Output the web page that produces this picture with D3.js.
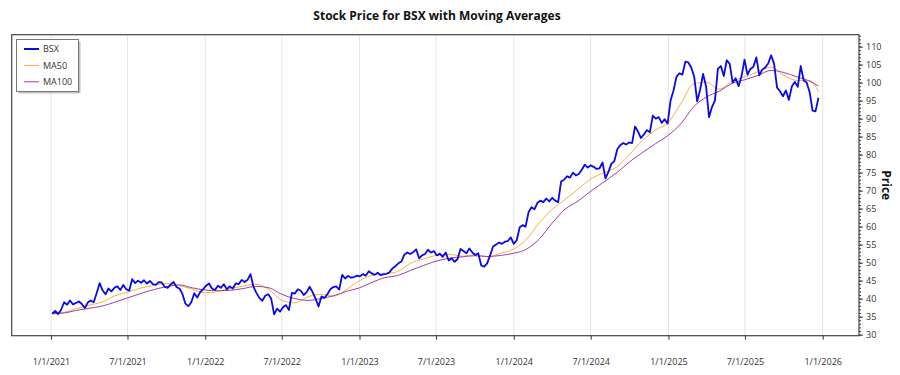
<!doctype html>
<html>
  <head>
    <script src="https://cdn.jsdelivr.net/npm/d3@7"></script>
    <style>
      body { margin: 0; background: #fff; }
      text { font-family: "Open Sans", "Noto Sans", sans-serif; }
    </style>
  </head>
  <body>
    <script>
    // weekly closes, first week starts 2021-01-04
    var firstWeek = "2021-01-04";
    var bsx2021 = [35.8, 36.6, 35.7, 36.9, 39.0, 38.3, 39.5, 38.4, 38.8, 39.2, 38.5, 37.4, 38.9,
      39.5, 39.0, 41.5, 44.3, 42.3, 41.2, 42.8, 42.0, 43.0, 43.4, 42.4, 43.8, 42.6,
      42.2, 45.4, 44.3, 45.0, 44.4, 45.1, 44.2, 44.9, 44.0, 43.8, 44.6, 44.5, 43.3,
      43.0, 43.9, 44.6, 43.2, 42.8, 41.3, 38.6, 37.9, 39.0, 41.5, 40.3, 41.8, 42.6];
    var bsx2022 = [43.6, 44.2, 42.8, 42.4, 43.6, 43.0, 44.0, 42.6, 43.4, 42.8, 44.2, 44.0, 45.2,
      44.6, 45.2, 46.8, 43.3, 41.6, 40.2, 39.4, 40.8, 41.2, 40.0, 35.6, 37.2, 36.4,
      37.6, 38.2, 36.8, 41.6, 41.4, 42.6, 42.2, 41.0, 41.8, 43.3, 41.8, 40.0, 37.8,
      40.6, 40.2, 41.2, 42.6, 43.2, 43.4, 42.5, 46.6, 45.6, 46.3, 45.8, 46.0, 46.4];
    var bsx2023 = [46.2, 46.8, 46.4, 47.6, 47.0, 46.6, 47.2, 46.5, 46.8, 46.9, 47.3, 48.4, 49.0,
      49.8, 50.3, 52.2, 52.8, 52.4, 52.9, 53.7, 51.2, 52.0, 52.4, 53.6, 52.8, 53.2,
      52.0, 52.5, 51.6, 52.8, 50.6, 51.2, 50.2, 51.0, 53.8, 53.2, 52.6, 53.9, 52.8,
      52.1, 52.6, 49.2, 48.9, 49.8, 52.0, 54.5, 55.0, 55.6, 55.2, 55.8, 56.0, 57.0];
    var bsx2024 = [55.2, 56.2, 59.8, 60.4, 60.0, 64.0, 65.4, 64.8, 66.6, 67.2, 66.8, 67.8, 67.0,
      68.0, 67.2, 66.8, 72.5, 73.0, 74.0, 73.6, 75.0, 74.2, 74.6, 75.8, 77.2, 76.4,
      77.0, 76.6, 76.0, 76.2, 77.8, 73.4, 75.2, 77.5, 78.2, 81.5, 82.6, 83.2, 82.8, 83.4,
      83.2, 87.8, 86.4, 84.6, 85.6, 86.8, 86.2, 90.8, 90.0, 90.4, 88.8, 89.8, 88.6];
    var bsx2025 = [95.0, 97.8, 101.6, 102.6, 102.2, 105.8, 105.6, 104.2, 101.6, 94.8, 98.0, 102.4, 99.0,
      90.4, 93.2, 95.0, 103.8, 104.6, 101.8, 106.2, 105.2, 100.0, 101.2, 99.0, 101.8, 106.4,
      102.2, 103.8, 104.4, 107.0, 102.0, 103.6, 104.2, 105.3, 107.6, 105.2, 98.6, 97.6, 96.2,
      97.8, 95.2, 98.9, 100.2, 98.8, 104.6, 100.6, 100.0, 97.4, 92.2, 92.0, 95.8];

    // moving averages read at month starts (first and last point at the series ends)
    var maDates = ["2021-01-04", "2021-02-01", "2021-03-01", "2021-04-01", "2021-05-01", "2021-06-01",
      "2021-07-01", "2021-08-01", "2021-09-01", "2021-10-01", "2021-11-01", "2021-12-01",
      "2022-01-01", "2022-02-01", "2022-03-01", "2022-04-01", "2022-05-01", "2022-06-01",
      "2022-07-01", "2022-08-01", "2022-09-01", "2022-10-01", "2022-11-01", "2022-12-01",
      "2023-01-01", "2023-02-01", "2023-03-01", "2023-04-01", "2023-05-01", "2023-06-01",
      "2023-07-01", "2023-08-01", "2023-09-01", "2023-10-01", "2023-11-01", "2023-12-01",
      "2024-01-01", "2024-02-01", "2024-03-01", "2024-04-01", "2024-05-01", "2024-06-01",
      "2024-07-01", "2024-08-01", "2024-09-01", "2024-10-01", "2024-11-01", "2024-12-01",
      "2025-01-01", "2025-02-01", "2025-03-01", "2025-04-01", "2025-05-01", "2025-06-01",
      "2025-07-01", "2025-08-01", "2025-09-01", "2025-10-01", "2025-11-01", "2025-12-01", "2025-12-22"];
    var ma50 = [35.8, 36.2, 37.2, 38.2, 39.0, 40.8, 41.8, 42.9, 43.7, 44.2, 43.6, 42.6,
      41.6, 42.0, 42.8, 43.5, 44.0, 42.5, 39.5, 38.8, 40.5, 41.2, 40.7, 42.5,
      45.0, 46.5, 46.9, 47.5, 49.8, 51.0, 52.0, 52.3, 51.8, 52.2, 51.6, 52.6,
      53.8, 56.6, 61.0, 64.8, 67.5, 70.4, 73.2, 75.0, 76.6, 80.0, 84.0, 86.8,
      89.0, 94.5, 99.6, 100.1, 98.2, 100.4, 101.6, 103.0, 104.3, 102.0, 100.6, 100.6, 97.5];
    var ma100 = [35.8, 36.0, 36.7, 37.3, 37.9, 39.0, 40.2, 41.4, 42.5, 43.3, 43.8, 43.0,
      42.4, 42.2, 42.3, 42.8, 43.4, 43.0, 41.2, 40.0, 39.5, 40.0, 40.8, 42.0,
      43.0, 44.6, 45.8, 46.4, 47.8, 49.2, 50.4, 51.2, 51.6, 51.9, 51.7, 52.0,
      52.6, 53.8, 56.5, 61.0, 64.8, 67.1, 69.8, 72.4, 75.0, 78.0, 80.6, 83.0,
      85.4, 88.8, 93.2, 96.0, 97.6, 99.8, 100.8, 102.0, 103.4, 102.8, 101.6, 100.4, 99.0];

    var xTicks = ["2021-01-01", "2021-07-01", "2022-01-01", "2022-07-01", "2023-01-01", "2023-07-01",
      "2024-01-01", "2024-07-01", "2025-01-01", "2025-07-01", "2026-01-01"];
    var yTicks = [30, 35, 40, 45, 50, 55, 60, 65, 70, 75, 80, 85, 90, 95, 100, 105, 110];

    var width = 900, height = 375;
    var plot = {left: 11.7, right: 859, top: 34.7, bottom: 335.7};

    var parse = d3.timeParse("%Y-%m-%d");

    var closes = bsx2021.concat(bsx2022, bsx2023, bsx2024, bsx2025);
    var start = parse(firstWeek);
    var priceData = closes.map(function(v, i) { return {date: d3.timeWeek.offset(start, i), value: v}; });
    var ma50Data = maDates.map(function(d, i) { return {date: parse(d), value: ma50[i]}; });
    var ma100Data = maDates.map(function(d, i) { return {date: parse(d), value: ma100[i]}; });

    // x scale anchored on the tick positions seen in the chart
    var tickDates = xTicks.map(parse);
    var x0 = d3.scaleTime().domain([tickDates[0], tickDates[tickDates.length - 1]]).range([51, 822.7]);
    var x = d3.scaleTime()
              .domain([x0.invert(plot.left), x0.invert(plot.right)])
              .range([plot.left, plot.right]);

    var y = d3.scaleLinear().domain([29.7, 113.3]).range([plot.bottom, plot.top]);

    var svg = d3.select("body").append("svg")
                .attr("width", width)
                .attr("height", height);

    // title
    svg.append("text")
      .attr("x", 437)
      .attr("y", 20)
      .attr("text-anchor", "middle")
      .attr("font-weight", "bold")
      .style("font-size", "12px")
      .attr("fill", "#111")
      .text("Stock Price for BSX with Moving Averages");

    // vertical grid
    svg.append("g")
      .selectAll("line")
      .data(tickDates)
      .enter()
        .append("line")
        .attr("x1", function(d) { return x(d); })
        .attr("x2", function(d) { return x(d); })
        .attr("y1", plot.top)
        .attr("y2", plot.bottom)
        .attr("stroke", "#e4e4e4")
        .attr("stroke-width", 1);

    // bottom axis
    var xAxis = d3.axisBottom(x)
                  .tickValues(tickDates)
                  .tickSize(4)
                  .tickPadding(19)
                  .tickFormat(d3.timeFormat("%-m/%-d/%Y"));
    var gx = svg.append("g")
      .attr("transform", "translate(0," + plot.bottom + ")")
      .call(xAxis);
    gx.select(".domain").remove();
    gx.selectAll("line").attr("stroke", "#333");
    gx.selectAll("text").style("font-size", "9px").attr("fill", "#333")
      .style("font-family", "'Open Sans', sans-serif");

    // right axis, minor ticks then major
    var gyMinor = svg.append("g")
      .attr("transform", "translate(" + plot.right + ",0)")
      .call(d3.axisRight(y).tickValues(d3.range(30, 114, 1)).tickSize(2).tickFormat(""));
    gyMinor.select(".domain").remove();
    gyMinor.selectAll("line").attr("stroke", "#333");

    var gy = svg.append("g")
      .attr("transform", "translate(" + plot.right + ",0)")
      .call(d3.axisRight(y).tickValues(yTicks).tickSize(4).tickPadding(3));
    gy.select(".domain").remove();
    gy.selectAll("line").attr("stroke", "#333");
    gy.selectAll("text").style("font-size", "9px").attr("fill", "#333")
      .style("font-family", "'Open Sans', sans-serif");

    svg.append("text")
      .attr("transform", "translate(885," + ((plot.top + plot.bottom) / 2) + ") rotate(90)")
      .attr("text-anchor", "middle")
      .attr("dominant-baseline", "middle")
      .attr("font-weight", "bold")
      .style("font-size", "12px")
      .attr("fill", "#111")
      .text("Price");

    // lines
    var line = d3.line()
                 .x(function(d) { return x(d.date); })
                 .y(function(d) { return y(d.value); });
    var smooth = d3.line()
                   .curve(d3.curveMonotoneX)
                   .x(function(d) { return x(d.date); })
                   .y(function(d) { return y(d.value); });

    svg.append("path")
      .datum(ma50Data)
      .attr("d", smooth)
      .attr("fill", "none")
      .attr("stroke", "#f2b23e")
      .attr("stroke-width", 1);

    svg.append("path")
      .datum(ma100Data)
      .attr("d", smooth)
      .attr("fill", "none")
      .attr("stroke", "#9e3fa6")
      .attr("stroke-width", 1);

    svg.append("path")
      .datum(priceData)
      .attr("d", line)
      .attr("fill", "none")
      .attr("stroke", "#0a0ae6")
      .attr("stroke-width", 1.8)
      .attr("stroke-linejoin", "round");

    // frame
    svg.append("rect")
      .attr("x", plot.left)
      .attr("y", plot.top)
      .attr("width", plot.right - plot.left)
      .attr("height", plot.bottom - plot.top)
      .attr("fill", "none")
      .attr("stroke", "#444")
      .attr("stroke-width", 1.2);

    // legend
    var legendItems = [
      {name: "BSX", color: "#0a0ae6", w: 2},
      {name: "MA50", color: "#f2b23e", w: 1},
      {name: "MA100", color: "#9e3fa6", w: 1}
    ];
    svg.append("rect")
      .attr("x", 18.5).attr("y", 41.5)
      .attr("width", 62).attr("height", 52)
      .attr("fill", "#9a9a9a").attr("opacity", 0.6);
    svg.append("rect")
      .attr("x", 16.5).attr("y", 39.5)
      .attr("width", 62).attr("height", 52)
      .attr("fill", "#fff").attr("stroke", "#777").attr("stroke-width", 1);

    var leg = svg.append("g")
      .selectAll("g")
      .data(legendItems)
      .enter()
        .append("g")
        .attr("transform", function(d, i) { return "translate(0," + (49 + i * 16.4) + ")"; });
    leg.append("line")
      .attr("x1", 24).attr("x2", 39)
      .attr("stroke", function(d) { return d.color; })
      .attr("stroke-width", function(d) { return d.w; });
    leg.append("text")
      .attr("x", 43)
      .attr("dy", "0.35em")
      .style("font-size", "9px")
      .attr("fill", "#333")
      .text(function(d) { return d.name; });
    </script>
  </body>
</html>
